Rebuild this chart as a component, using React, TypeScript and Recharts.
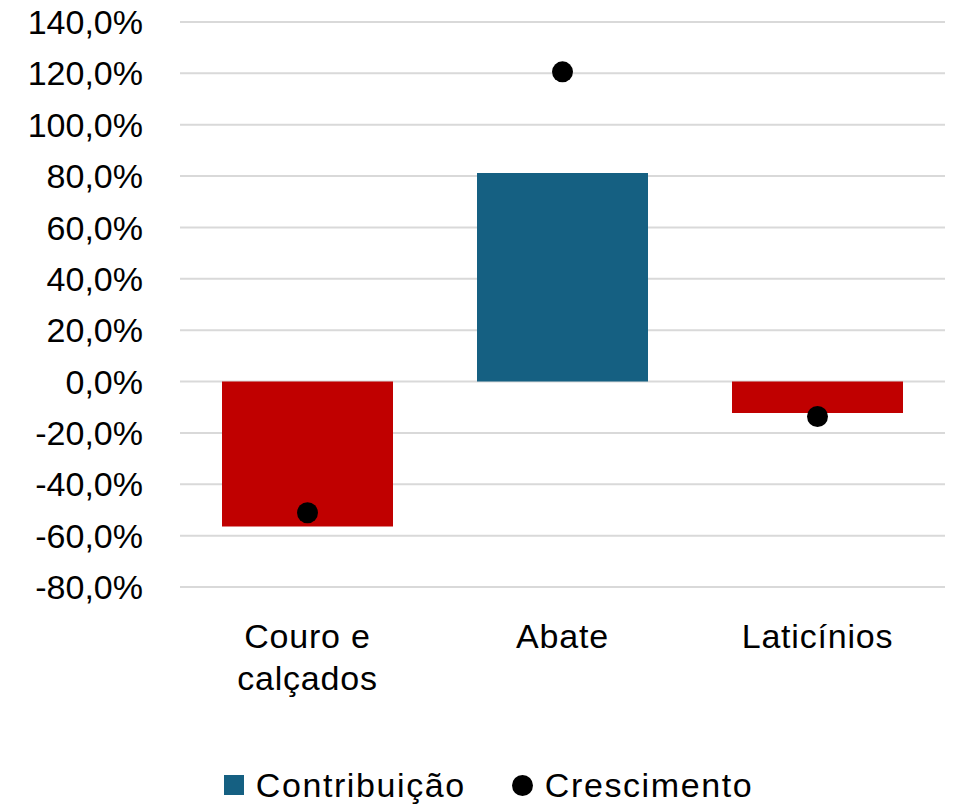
import React from 'react';
import { ComposedChart, Bar, Scatter, XAxis, YAxis, CartesianGrid, Legend, Cell } from 'recharts';

const categories = ['Couro e calçados', 'Abate', 'Laticínios'];
const contribuicao = [-56.4, 81.2, -12.2];
const crescimento = [-51.1, 120.6, -13.6];
const yTicks = [-80, -60, -40, -20, 0, 20, 40, 60, 80, 100, 120, 140];

const BLUE = '#156082';
const RED = '#C00000';
const FONT = '"Liberation Sans", Arial, sans-serif';

const data = categories.map((name, i) => ({
  name,
  contribuicao: contribuicao[i],
  crescimento: crescimento[i],
}));

const fmt = (v: number) => v.toFixed(1).replace('.', ',') + '%';

const CategoryTick = (props: any) => {
  const { x, y, payload } = props;
  const lines = payload.value === 'Couro e calçados' ? ['Couro e', 'calçados'] : [payload.value];
  return (
    <text x={x} y={y} textAnchor="middle" fill="#000" fontSize={34} fontFamily={FONT} letterSpacing={0.8}>
      {lines.map((l, i) => (
        <tspan key={i} x={x} dy={i === 0 ? 53 : 42}>{l}</tspan>
      ))}
    </text>
  );
};

const Dot = (props: any) => {
  const { cx, cy } = props;
  if (cx == null || cy == null) return null;
  return <circle cx={cx} cy={cy} r={10.5} fill="#000" />;
};

const LegendBox = () => (
  <div style={{ height: 40, display: 'flex', justifyContent: 'center', alignItems: 'center', paddingLeft: 32, fontFamily: FONT, fontSize: 34, color: '#000', letterSpacing: 1.6 }}>
    <span style={{ width: 20, height: 20, background: BLUE, display: 'inline-block', marginRight: 12 }} />
    <span style={{ marginRight: 46 }}>Contribuição</span>
    <span style={{ width: 21, height: 21, borderRadius: '50%', background: '#000', display: 'inline-block', marginRight: 12 }} />
    <span>Crescimento</span>
  </div>
);

export default function App() {
  return (
    <div style={{ width: 956, height: 808, background: '#fff', fontFamily: FONT }}>
      <style>{`body{margin:0}`}</style>
      <ComposedChart width={956} height={808} data={data} margin={{ top: 22, right: 11, left: 0, bottom: 3 }}>
        <CartesianGrid horizontal vertical={false} stroke="#d9d9d9" strokeWidth={2} />
        <XAxis dataKey="name" axisLine={false} tickLine={false} height={178} tick={<CategoryTick />} interval={0} />
        <YAxis
          width={180}
          domain={[-80, 140]}
          ticks={yTicks}
          tickFormatter={fmt}
          axisLine={false}
          tickLine={false}
          tickMargin={31}
          tick={{ fill: '#000', fontSize: 34, fontFamily: FONT }}
        />
        <Legend verticalAlign="bottom" content={<LegendBox />} />
        <Bar dataKey="contribuicao" barSize={171} isAnimationActive={false}>
          {data.map((d, i) => (
            <Cell key={i} fill={d.contribuicao >= 0 ? BLUE : RED} />
          ))}
        </Bar>
        <Scatter dataKey="crescimento" fill="#000" shape={<Dot />} isAnimationActive={false} />
      </ComposedChart>
    </div>
  );
}
